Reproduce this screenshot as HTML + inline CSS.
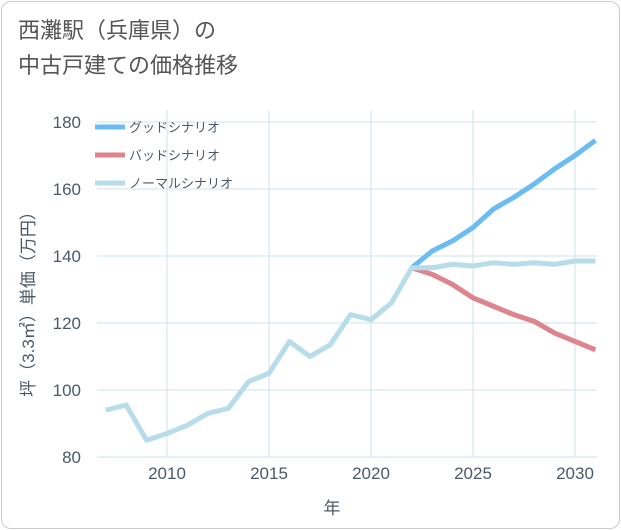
<!DOCTYPE html>
<html><head><meta charset="utf-8">
<style>
body{margin:0;background:#fff;font-family:"Liberation Sans","Noto Sans CJK JP",sans-serif;}
#card{position:absolute;left:1px;top:1px;width:617px;height:526px;border:1px solid #ccc;border-radius:10px;background:#fff;}
#title{position:absolute;left:18px;top:13px;font-size:22px;line-height:35px;color:#555;}
svg{position:absolute;left:0;top:0;}
</style></head>
<body>
<div id="card"></div>
<div id="title">西灘駅（兵庫県）の<br>中古戸建ての価格推移</div>
<svg id="chart" width="621" height="530"></svg>
<script>
const years=[2007,2008,2009,2010,2011,2012,2013,2014,2015,2016,2017,2018,2019,2020,2021,2022,2023,2024,2025,2026,2027,2028,2029,2030,2031];
const normal=[94,95.5,85,87,89.5,93,94.5,102.5,105,114.5,110,113.5,122.5,121,126,136.5,136.5,137.5,137,138,137.5,138,137.5,138.5,138.5];
const goodYears=[2022,2023,2024,2025,2026,2027,2028,2029,2030,2031];
const good=[136.5,141.5,144.5,148.5,154,157.5,161.5,166,170,174.5];
const bad=[136.5,134.5,131.5,127.5,125,122.5,120.5,117,114.5,112];
const xTicks=[2010,2015,2020,2025,2030];
const yTicks=[80,100,120,140,160,180];
const NS="http://www.w3.org/2000/svg";
const svg=document.getElementById('chart');
const L=97,R=597,T=110,B=457;
const x=v=>167+(v-2010)*20.4;
const y=v=>457-(v-80)*3.35;
function el(t,a,p){const e=document.createElementNS(NS,t);for(const k in a)e.setAttribute(k,a[k]);(p||svg).appendChild(e);return e;}
xTicks.forEach(t=>{const g=el('line',{x1:x(t),x2:x(t),y1:T,y2:B,stroke:'#cfe0ea','stroke-width':1});

const tx=el('text',{x:x(t),y:479,'text-anchor':'middle','font-size':17,fill:'#4a5a6a'});tx.textContent=t;
});
yTicks.forEach(t=>{const g=el('line',{x1:L,x2:R,y1:y(t),y2:y(t),stroke:'#cfe0ea','stroke-width':1});

const tx=el('text',{x:81,y:y(t)+6,'text-anchor':'end','font-size':17,fill:'#4a5a6a'});tx.textContent=t;
});
const xt=el('text',{x:332,y:514,'text-anchor':'middle','font-size':17,fill:'#4a5a6a'});xt.textContent='年';

const yt=el('text',{x:0,y:0,'text-anchor':'middle','font-size':17,fill:'#4a5a6a',transform:'translate(34,300) rotate(-90)'});yt.textContent='坪（3.3㎡）単価（万円）';

const clip=el('clipPath',{id:'c'});el('rect',{x:L,y:T-10,width:R-L,height:B-T+10},clip);
function line(xs,vs,color,name){const p=el('polyline',{points:xs.map((v,i)=>x(v)+','+y(vs[i])).join(' '),fill:'none',stroke:color,'stroke-width':5,'stroke-linejoin':'round','clip-path':'url(#c)'});
}
line(goodYears,good,'#6bbcf2','good-scenario-line');
line(goodYears,bad,'#de848c','bad-scenario-line');
line(years,normal,'#b7dcea','normal-scenario-line');
const leg=[['グッドシナリオ','#6bbcf2'],['バッドシナリオ','#de848c'],['ノーマルシナリオ','#b7dcea']];
leg.forEach((l,i)=>{const yy=127+i*28;
const s=el('line',{x1:95,x2:125,y1:yy,y2:yy,stroke:l[1],'stroke-width':5});

const t=el('text',{x:129,y:yy+5,'font-size':13,fill:'#4a5a6a'});t.textContent=l[0];
});
</script>
</body></html>
